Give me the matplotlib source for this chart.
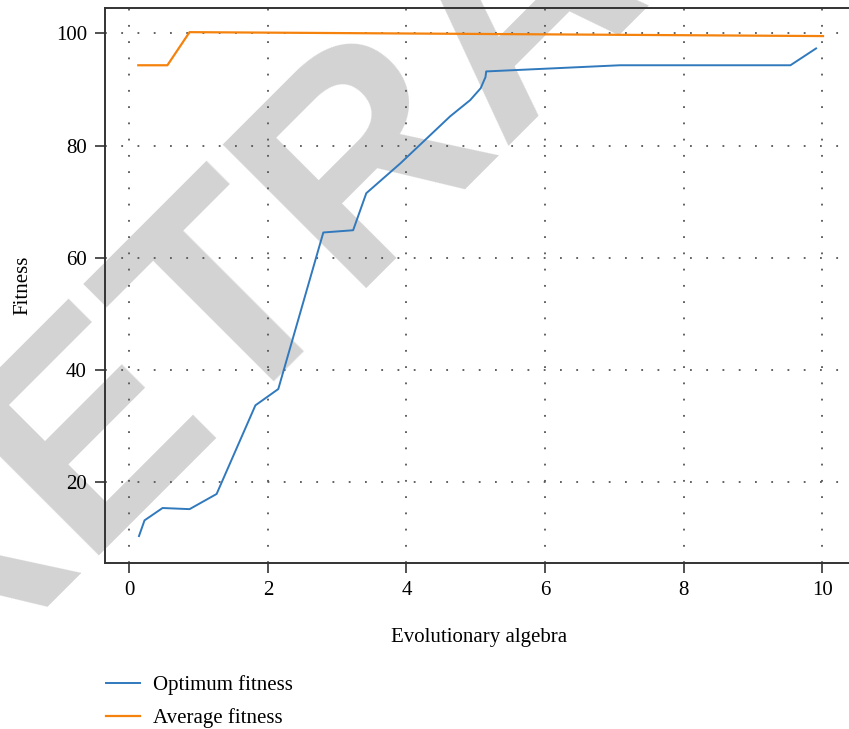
import matplotlib
matplotlib.use("Agg")
import matplotlib.pyplot as plt

# values
opt_x = [0.14, 0.22, 0.48, 0.87, 1.26, 1.82, 2.15, 2.80, 3.23, 3.42, 3.91, 4.63, 4.92, 5.07, 5.14, 5.15, 7.08, 9.54, 9.91]
opt_y = [10.4, 13.2, 15.4, 15.2, 17.9, 33.7, 36.6, 64.5, 64.9, 71.5, 76.8, 85.2, 88.1, 90.2, 92.2, 93.2, 94.3, 94.3, 97.3]

avg_x = [0.13, 0.55, 0.87, 10.01]
avg_y = [94.3, 94.3, 100.2, 99.5]

x_ticks = [0, 2, 4, 6, 8, 10]
y_ticks = [20, 40, 60, 80, 100]

plt.rcParams["font.family"] = ["Liberation Serif", "DejaVu Serif"]

fig = plt.figure(figsize=(8.49, 7.29), dpi=100)
ax = fig.add_axes([0.1237, 0.2277, 0.8816, 0.7613])
ax.patch.set_alpha(0)

# retraction watermark behind everything
fig.text(0.676, 0.916, "RETRACTED", fontsize=213, fontweight="bold",
         family="Liberation Sans", color="#d3d3d3", rotation=45,
         rotation_mode="anchor", ha="center", va="baseline", zorder=-5)

ax.plot(opt_x, opt_y, color="#3079bd", lw=1.4, label="Optimum fitness")
ax.plot(avg_x, avg_y, color="#f5820d", lw=1.6, label="Average fitness")

ax.set_xlim(-0.35, 10.45)
ax.set_ylim(5.6, 104.5)
ax.set_xticks(x_ticks)
ax.set_yticks(y_ticks)
ax.grid(True, color="#555555", linestyle=(0, (1, 8)), linewidth=1.3)

for side in ["left", "bottom", "top"]:
    ax.spines[side].set_color("#333333")
    ax.spines[side].set_linewidth(1.4)
ax.spines["right"].set_visible(False)
ax.tick_params(direction="out", length=7, width=1.2, color="#333333",
               labelsize=15, pad=6)

ax.set_xlabel("Evolutionary algebra", fontsize=15, labelpad=20)
ax.set_ylabel("Fitness", fontsize=15, labelpad=17)

fig.legend(loc="upper left", bbox_to_anchor=(106 / 849, 1 - 675 / 729),
           frameon=False, fontsize=15, handlelength=1.63, handletextpad=0.63,
           labelspacing=0.65, borderpad=0, borderaxespad=0)

fig.savefig("out.png", dpi=100)
